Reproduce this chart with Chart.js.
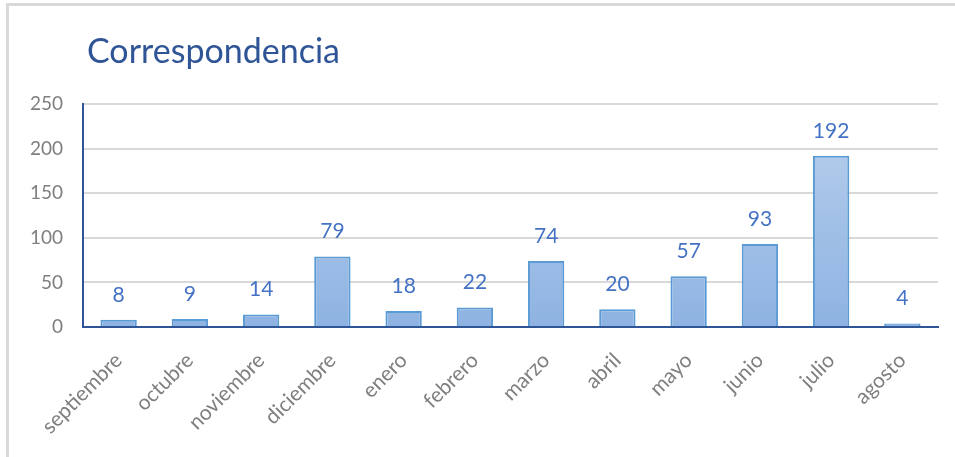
<!DOCTYPE html>
<html>
<head>
<meta charset="utf-8">
<script src="https://cdn.jsdelivr.net/npm/chart.js@4"></script>
<style>
  html, body { margin: 0; padding: 0; background: #fff; }
  #box { position: relative; width: 955px; height: 457px; }
</style>
</head>
<body>
<div id="box"><canvas id="chart"></canvas></div>
<script>
const months = ['septiembre', 'octubre', 'noviembre', 'diciembre', 'enero', 'febrero',
  'marzo', 'abril', 'mayo', 'junio', 'julio', 'agosto']
const amounts = [8, 9, 14, 79, 18, 22, 74, 20, 57, 93, 192, 4]
const yTicks = [0, 50, 100, 150, 200, 250]
const chartTitle = 'Correspondencia'

const FONT = 'Lato, "Open Sans", sans-serif'

// frame lines, title and value labels
const decor = {
  id: 'decor',
  beforeDraw (chart) {
    const c = chart.ctx
    c.save()
    c.fillStyle = '#d9d9d9'
    c.fillRect(6, 3, chart.width - 6, 3)
    c.fillRect(6, 3, 3, chart.height - 3)
    c.restore()
  },
  afterDatasetsDraw (chart) {
    const c = chart.ctx
    c.save()
    c.fillStyle = '#2f5597'
    c.font = '34px ' + FONT
    c.textBaseline = 'alphabetic'
    c.fillText(chartTitle, 87, 63)

    c.fillStyle = '#4472c4'
    c.font = '21px ' + FONT
    c.textAlign = 'center'
    c.textBaseline = 'middle'
    chart.getDatasetMeta(0).data.forEach((bar, i) => {
      c.fillText(String(amounts[i]), bar.x, bar.y - 25)
    })
    c.restore()
  }
}

const ctx = document.querySelector('#chart').getContext('2d')
const myChart = new Chart(ctx, {
  type: 'bar',
  data: {
    labels: months,
    datasets: [{
      data: amounts,
      backgroundColor (context) {
        const area = context.chart.chartArea
        if (!area) return '#a6c3e8'
        const g = context.chart.ctx.createLinearGradient(0, area.top, 0, area.bottom)
        g.addColorStop(0, '#b9d0ec')
        g.addColorStop(1, '#8eb3e2')
        return g
      },
      borderColor: '#5b9bd5',
      borderWidth: 2,
      borderSkipped: 'bottom',
      categoryPercentage: 1,
      barPercentage: 0.51
    }]
  },
  options: {
    responsive: true,
    maintainAspectRatio: false,
    animation: false,
    layout: { padding: { top: 104, right: 17, left: 0, bottom: 0 } },
    plugins: { legend: { display: false }, tooltip: { enabled: false } },
    scales: {
      x: {
        grid: { display: false, drawTicks: false },
        border: { color: '#2f5597', width: 2 },
        ticks: {
          color: '#7f7f7f',
          font: { family: FONT, size: 21 },
          maxRotation: 45,
          minRotation: 45,
          padding: 21
        },
        afterFit (scale) { scale.height = 130 }
      },
      y: {
        min: 0,
        max: 250,
        afterBuildTicks (scale) { scale.ticks = yTicks.map(v => ({ value: v })) },
        grid: { color: '#d9d9d9', lineWidth: 2, drawTicks: false },
        border: { color: '#2f5597', width: 2 },
        ticks: {
          color: '#7f7f7f',
          font: { family: FONT, size: 19 },
          padding: 20
        },
        afterFit (scale) { scale.width = 83 }
      }
    }
  },
  plugins: [decor]
})
</script>
</body>
</html>
